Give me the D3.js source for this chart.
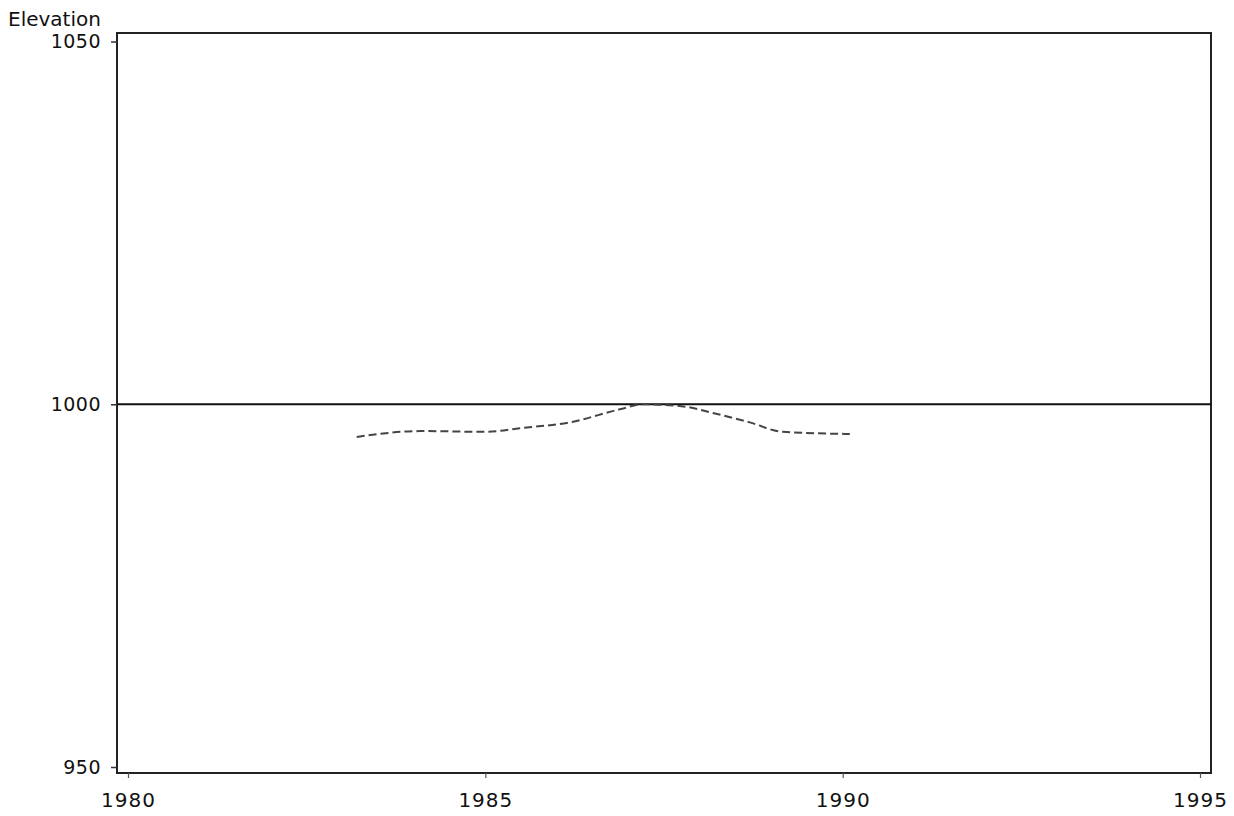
<!DOCTYPE html>
<html>
<head>
<meta charset="utf-8">
<script src="https://cdn.jsdelivr.net/npm/d3@7"></script>
<style>
html,body{margin:0;padding:0;background:#fff;}
svg{display:block;}
text{font-family:"DejaVu Sans",sans-serif;fill:#111;}
</style>
</head>
<body>
<svg id="chart" width="1234" height="816"></svg>
<script>
// Data
const yearTicks = [1980, 1985, 1990, 1995];
const elevTicks = [950, 1000, 1050];
const refLevel = 1000;
const years = [1983.20, 1984.09, 1985.02, 1985.48, 1986.18, 1986.88, 1987.21, 1987.77, 1988.14, 1988.70, 1989.16, 1990.10];
const elevations = [995.5, 996.3, 996.2, 996.7, 997.5, 999.3, 1000.0, 999.7, 998.9, 997.5, 996.2, 995.9];
const yLabel = "Elevation";

const svg = d3.select("#chart");
const frame = {left:117, top:33, right:1211, bottom:773};

const x = d3.scaleLinear().domain([1980, 1995]).range([128, 1200]);
const y = d3.scaleLinear().domain([950, 1050]).range([767, 41.5]);

// frame
svg.append("rect")
  .attr("x", frame.left).attr("y", frame.top)
  .attr("width", frame.right - frame.left).attr("height", frame.bottom - frame.top)
  .attr("fill", "none").attr("stroke", "#222").attr("stroke-width", 2);

// y axis ticks
const yAxis = d3.axisLeft(y).tickValues(elevTicks).tickSize(6).tickPadding(10).tickFormat(d3.format("d"));
const gy = svg.append("g").attr("transform", `translate(${frame.left},0)`).call(yAxis);
gy.select(".domain").remove();
gy.selectAll(".tick line").attr("stroke", "#333").attr("stroke-width", 1.5);
gy.selectAll(".tick text").attr("font-size", 19).attr("letter-spacing", "0.5px")
  .attr("font-family", "DejaVu Sans").attr("fill", "#111");

// x axis ticks
const xAxis = d3.axisBottom(x).tickValues(yearTicks).tickSize(5).tickPadding(15).tickFormat(d3.format("d"));
const gx = svg.append("g").attr("transform", `translate(0,${frame.bottom})`).call(xAxis);
gx.select(".domain").remove();
gx.selectAll(".tick line").attr("stroke", "#555").attr("stroke-width", 1.2);
gx.selectAll(".tick text").attr("font-size", 20).attr("letter-spacing", "1px")
  .attr("font-family", "DejaVu Sans").attr("fill", "#111");

// y label
svg.append("text").attr("x", 8).attr("y", 26).attr("font-size", 20).text(yLabel);

// reference line
svg.append("line")
  .attr("x1", frame.left).attr("x2", frame.right)
  .attr("y1", y(refLevel)).attr("y2", y(refLevel))
  .attr("stroke", "#111").attr("stroke-width", 2);

// dashed series
const data = years.map((d, i) => ({year: d, elev: elevations[i]}));
const line = d3.line().x(d => x(d.year)).y(d => y(d.elev)).curve(d3.curveMonotoneX);
svg.append("path").datum(data)
  .attr("d", line)
  .attr("fill", "none").attr("stroke", "#444").attr("stroke-width", 2)
  .attr("stroke-dasharray", "8,4");
</script>
</body>
</html>
